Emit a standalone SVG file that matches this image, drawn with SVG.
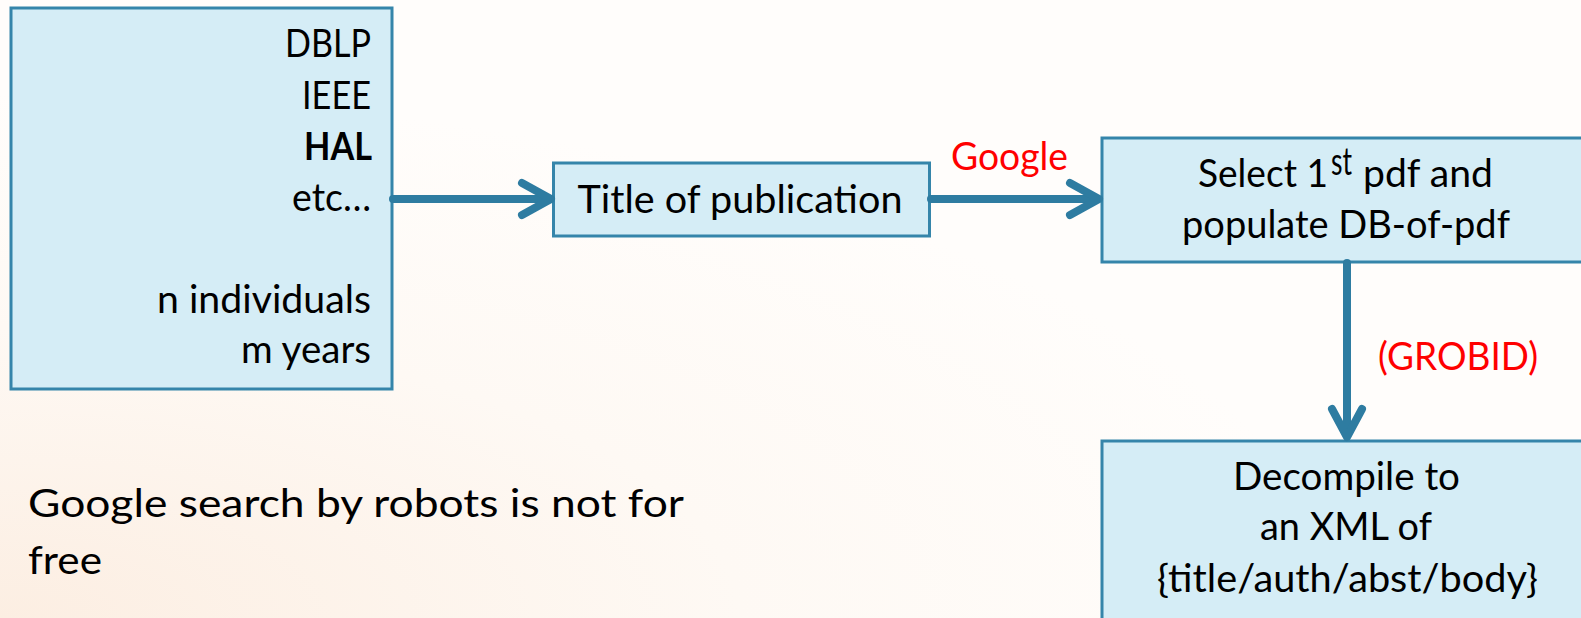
<svg xmlns="http://www.w3.org/2000/svg" width="1581" height="618" viewBox="0 0 1581 618">
<defs>
<radialGradient id="bg" cx="0" cy="1" r="0.85">
<stop offset="0" stop-color="#FCEEE2"/>
<stop offset="0.55" stop-color="#FEF9F4"/>
<stop offset="1" stop-color="#FFFDFB"/>
</radialGradient>
<style>
.box{fill:#D5EDF6;stroke:#3585AA;stroke-width:3}
.t{font-family:Lato,"Open Sans",sans-serif;font-size:38px;fill:#000}
.r{font-family:Lato,"Open Sans",sans-serif;font-size:38px;fill:#FF0000}
.c{stroke:#2E7CA1;stroke-width:8;fill:none;stroke-linecap:round;stroke-linejoin:round}
</style>
</defs>
<rect width="1581" height="618" fill="url(#bg)"/>
<g id="sources">
<rect class="box" x="11" y="8" width="381" height="381"/>
<text class="t" text-anchor="end" x="371" y="57" textLength="86" lengthAdjust="spacingAndGlyphs">DBLP</text>
<text class="t" text-anchor="end" x="371" y="109" textLength="69" lengthAdjust="spacingAndGlyphs">IEEE</text>
<text class="t" text-anchor="end" x="372" y="160" font-weight="bold" textLength="68" lengthAdjust="spacingAndGlyphs">HAL</text>
<text class="t" text-anchor="end" x="371" y="211" textLength="79" lengthAdjust="spacingAndGlyphs">etc…</text>
<text class="t" text-anchor="end" x="371" y="313" textLength="214" lengthAdjust="spacingAndGlyphs">n individuals</text>
<text class="t" text-anchor="end" x="371" y="363" textLength="130" lengthAdjust="spacingAndGlyphs">m years</text>
</g>
<g id="title">
<rect class="box" x="553.5" y="163" width="376" height="73"/>
<text class="t" text-anchor="middle" x="740" y="213" textLength="325" lengthAdjust="spacingAndGlyphs">Title of publication</text>
</g>
<g id="select">
<rect class="box" x="1102" y="138" width="490" height="124"/>
<text class="t" x="1198" y="187" textLength="130" lengthAdjust="spacingAndGlyphs">Select 1</text>
<text class="t" font-size="21" x="1331" y="175" textLength="21" lengthAdjust="spacingAndGlyphs">st</text>
<text class="t" x="1363" y="187" textLength="130" lengthAdjust="spacingAndGlyphs">pdf and</text>
<text class="t" text-anchor="middle" x="1346" y="238" textLength="328" lengthAdjust="spacingAndGlyphs">populate DB-of-pdf</text>
</g>
<g id="decompile">
<rect class="box" x="1102" y="441" width="490" height="190"/>
<text class="t" text-anchor="middle" x="1346.5" y="490" textLength="227" lengthAdjust="spacingAndGlyphs">Decompile to</text>
<text class="t" text-anchor="middle" x="1346" y="540" textLength="172" lengthAdjust="spacingAndGlyphs">an XML of</text>
<text class="t" text-anchor="middle" x="1347.5" y="592" textLength="381" lengthAdjust="spacingAndGlyphs">{title/auth/abst/body}</text>
</g>
<g id="connectors">
<path class="c" d="M393 199 L548 199"/>
<path class="c" d="M522 183 L551 199 L522 215"/>
<path class="c" d="M931 199 L1096 199"/>
<path class="c" d="M1070 183 L1099 199 L1070 215"/>
<path class="c" d="M1347 263 L1347 434"/>
<path class="c" d="M1332 409 L1347 437 L1362 409"/>
</g>
<g id="labels">
<text class="r" x="951" y="170" textLength="117" lengthAdjust="spacingAndGlyphs">Google</text>
<text class="r" x="1378" y="370" textLength="160" lengthAdjust="spacingAndGlyphs">(GROBID)</text>
</g>
<g id="note">
<text class="t" font-size="44" x="28" y="517" textLength="656" lengthAdjust="spacingAndGlyphs">Google search by robots is not for</text>
<text class="t" font-size="44" x="28" y="574" textLength="74" lengthAdjust="spacingAndGlyphs">free</text>
</g>
</svg>
